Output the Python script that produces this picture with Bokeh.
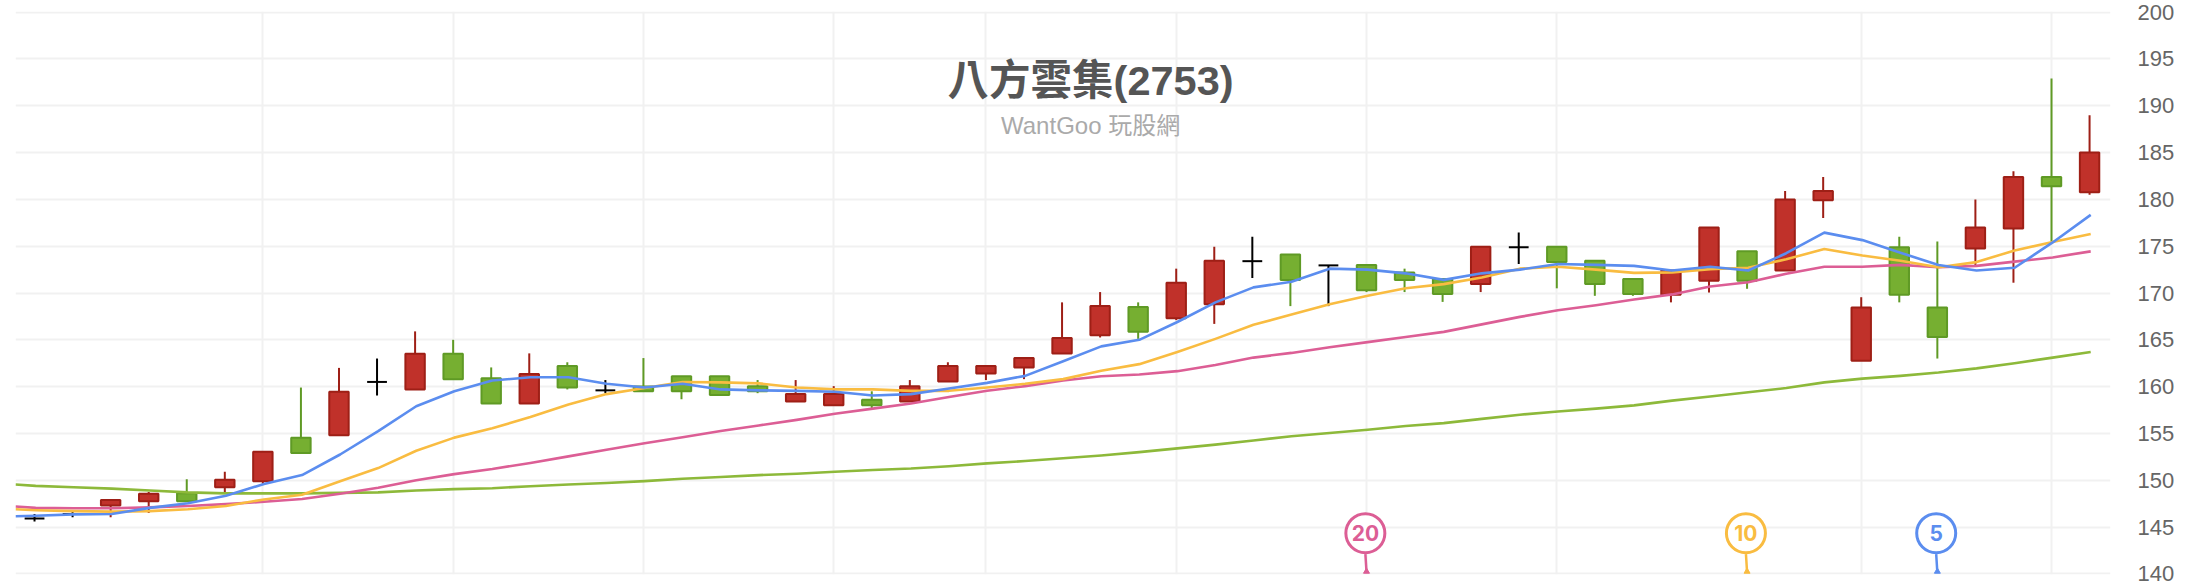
from bokeh.plotting import figure
from bokeh.models import LinearAxis, Grid, FixedTicker, Range1d, Label, ColumnDataSource
from bokeh.embed import file_html
from bokeh.resources import INLINE
from bokeh.core.properties import value

opens  = [145.9,146.4,147.3,147.75,148.6,149.25,149.9,154.55,154.8,160.5,159.7,163.5,160.9,158.2,162.2,159.6,160.0,161.1,161.1,160.05,158.4,158.0,158.6,158.4,160.55,161.4,162.05,163.55,165.5,168.5,167.3,168.8,173.4,174.1,172.95,173.0,172.2,171.5,170.95,174.9,174.95,173.45,171.5,169.8,171.3,174.45,172.4,179.9,162.75,174.9,168.45,174.75,176.9,182.4,180.75]
closes = [145.9,146.4,147.9,148.55,147.75,150.05,153.05,152.9,159.45,160.5,163.5,160.8,158.2,161.35,159.9,159.6,159.5,159.5,159.1,159.5,159.2,159.2,158.0,160.05,162.2,162.2,163.05,165.2,168.6,165.85,171.1,173.45,173.4,171.4,172.95,170.3,171.4,169.9,174.95,174.9,173.3,170.95,169.9,172.4,177.0,171.3,180.0,180.9,168.45,169.8,165.3,177.0,182.4,181.4,185.0]
highs  = [146.4,146.6,147.9,148.75,150.1,150.9,153.05,159.9,162.0,163.0,165.9,165.0,162.05,163.55,162.6,160.7,163.05,161.1,161.1,160.7,160.7,160.05,159.5,160.7,162.6,162.2,163.05,169.0,170.1,169.0,172.6,174.95,176.0,174.1,172.95,173.0,172.6,171.5,174.95,176.45,174.95,173.45,171.5,172.4,177.0,174.45,180.9,182.4,169.55,176.0,175.5,180.0,183.0,192.9,189.0]
lows   = [145.6,146.05,146.05,146.5,147.75,148.7,149.6,152.9,154.8,159.05,159.7,160.8,158.2,158.2,159.7,159.3,159.5,158.65,159.1,159.3,158.4,158.0,157.7,158.4,160.55,160.7,160.8,163.55,165.25,165.1,167.1,166.7,171.6,168.6,168.6,170.1,170.1,169.05,170.1,173.1,170.5,169.7,169.7,169.0,170.05,170.45,172.4,178.0,162.75,169.0,163.0,173.0,171.1,175.5,180.5]

# first entry of each average is its value at the left edge of the plot
ma5  = [146.15,146.2,146.35,146.4,147.05,147.55,148.35,149.6,150.55,152.75,155.25,157.9,159.5,160.65,161.0,161.0,160.3,159.9,160.3,159.7,159.6,159.55,159.45,159.05,159.2,159.8,160.4,161.15,162.7,164.3,165.0,166.9,169.0,170.6,171.2,172.6,172.5,172.1,171.4,172.1,172.5,173.1,173.0,172.9,172.4,172.8,172.4,174.25,176.45,175.65,174.3,173.0,172.4,172.7,175.4,178.35]
ma10 = [146.9,146.8,146.7,146.65,146.7,146.9,147.25,147.95,148.45,149.9,151.3,153.15,154.55,155.55,156.75,158.1,159.2,159.85,160.5,160.45,160.35,159.9,159.7,159.7,159.55,159.55,159.9,160.3,160.8,161.7,162.4,163.7,165.1,166.6,167.7,168.8,169.7,170.5,170.95,171.65,172.6,172.8,172.5,172.15,172.2,172.55,172.7,173.6,174.7,174.0,173.45,172.75,173.3,174.55,175.45,176.3]
ma20 = [147.2,147.05,147.0,147.0,147.1,147.25,147.45,147.7,148.0,148.55,149.2,150.0,150.65,151.2,151.85,152.55,153.25,153.95,154.6,155.25,155.85,156.45,157.1,157.65,158.2,158.9,159.55,160.05,160.65,161.1,161.3,161.65,162.3,163.1,163.6,164.2,164.75,165.3,165.85,166.65,167.45,168.15,168.7,169.3,169.85,170.7,171.15,172.05,172.8,172.8,173.0,172.75,172.9,173.35,173.8,174.45]
ma60 = [149.55,149.4,149.25,149.1,148.9,148.7,148.6,148.6,148.6,148.65,148.7,148.9,149.05,149.15,149.35,149.55,149.7,149.9,150.15,150.35,150.55,150.7,150.9,151.1,151.25,151.5,151.8,152.05,152.35,152.65,153.0,153.4,153.8,154.25,154.7,155.05,155.4,155.8,156.1,156.55,157.0,157.35,157.65,158.0,158.5,158.95,159.4,159.85,160.45,160.85,161.15,161.5,161.95,162.5,163.1,163.7]

y_ticks = list(range(140, 201, 5))
x_grid = [6, 11, 16, 21, 25, 30, 35, 40, 48, 53]
pin_index = [35, 45, 50]
pin_label = ["20", "10", "5"]
pin_color = ["#DC5E95", "#F9BC41", "#5B8DEF"]

RED, RED_D = "#C0312A", "#9E1F16"
GREEN, GREEN_D = "#76AF31", "#5F9A25"

p = figure(width=2198, height=586, output_backend="svg", toolbar_location=None,
           x_range=Range1d(-0.5, 54.55), y_range=Range1d(139.93, 200.07),
           x_axis_location=None, y_axis_location=None,
           min_border_left=15, min_border_right=88, min_border_top=11, min_border_bottom=12,
           background_fill_color="white", border_fill_color="white")
p.outline_line_color = None

p.grid.visible = False
GRID = "#F1F1F1"
p.add_layout(Grid(dimension=1, ticker=FixedTicker(ticks=y_ticks), grid_line_color=GRID, grid_line_width=2))
p.add_layout(Grid(dimension=0, ticker=FixedTicker(ticks=x_grid), grid_line_color=GRID, grid_line_width=2))

ax = LinearAxis(ticker=FixedTicker(ticks=y_ticks), axis_line_color=None,
                major_tick_line_color=None, minor_tick_line_color=None,
                major_label_text_font="Liberation Sans", major_label_text_font_size="22px",
                major_label_text_color="#666666", major_label_standoff=21)
p.add_layout(ax, "right")

idx = list(range(len(opens)))
def pick(cond):
    s = [i for i in idx if cond(opens[i], closes[i])]
    return ColumnDataSource(dict(x=s, top=[max(opens[i], closes[i]) for i in s],
                                 bottom=[min(opens[i], closes[i]) for i in s],
                                 h=[highs[i] for i in s], l=[lows[i] for i in s]))

up, down, flat = pick(lambda o, c: c > o), pick(lambda o, c: c < o), pick(lambda o, c: c == o)
W = 0.51
for src, fill, edge in ((up, RED, RED_D), (down, GREEN, GREEN_D)):
    p.segment("x", "h", "x", "l", source=src, line_color=edge, line_width=2)
    p.vbar(x="x", top="top", bottom="bottom", width=W, source=src,
           fill_color=fill, line_color=edge, line_width=2)
p.segment("x", "h", "x", "l", source=flat, line_color="black", line_width=2)
fx = flat.data["x"]
p.segment([i - 0.26 for i in fx], flat.data["top"], [i + 0.26 for i in fx], flat.data["top"],
          line_color="black", line_width=2)

line_x = [-0.5] + [i + 0.03 for i in idx]
for series, col in ((ma60, "#8DB93A"), (ma20, "#DC5E95"), (ma10, "#F9BC41"), (ma5, "#5B8DEF")):
    p.line(line_x, series, line_color=col, line_width=2.6, line_join="round")

PIN_Y, STEM_TOP, STEM_BOTTOM = 144.34, 142.1, 140.15
pin_x = [i - 0.03 for i in pin_index]
p.segment(pin_x, [STEM_TOP] * 3, pin_index, [STEM_BOTTOM] * 3, line_color=pin_color, line_width=2.5)
p.scatter(pin_index, [STEM_BOTTOM + 0.1] * 3, marker="triangle", size=6, fill_color=pin_color, line_color=pin_color)
p.scatter(pin_x, [PIN_Y] * 3, marker="circle", size=39, fill_color="white", line_color=pin_color, line_width=3)
p.text(pin_x, [PIN_Y] * 3, text=pin_label, text_color=pin_color, text_align="center", text_baseline="middle",
       text_font=value("Inter"), text_font_style="bold", text_font_size="21px")

p.add_layout(Label(x=27.75, y=192.7, text="八方雲集(2753)", text_align="center", text_baseline="middle",
                   text_font="Liberation Sans, Noto Sans CJK TC", text_font_style="bold",
                   text_font_size="41.5px", text_color="#555555"))
p.add_layout(Label(x=27.75, y=187.9, text="WantGoo 玩股網", text_align="center", text_baseline="middle",
                   text_font="Liberation Sans, Noto Sans CJK TC", text_font_size="24px", text_color="#AAAAAA"))

open("out.html", "w").write(file_html(p, INLINE))
